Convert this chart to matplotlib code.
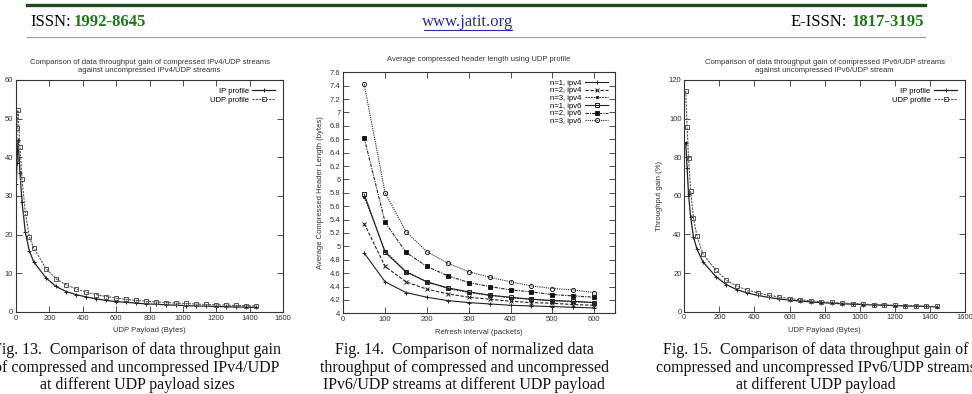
import matplotlib.pyplot as plt
from matplotlib.lines import Line2D

W, H = 972, 394

# ---- data ----
payload4 = [2, 6, 12, 24, 36, 56, 80, 106, 180, 240, 300, 360, 420, 480, 540, 600,
            660, 720, 780, 840, 900, 960, 1020, 1080, 1140, 1200, 1260, 1320, 1380, 1440]
ip4 = [33.0, 38.5, 44.5, 36.0, 28.5, 20.6, 15.8, 13.0, 8.8, 6.6, 5.3, 4.5, 3.9, 3.4,
       3.0, 2.7, 2.5, 2.3, 2.1, 2.0, 1.85, 1.75, 1.65, 1.55, 1.5, 1.42, 1.36, 1.3, 1.25, 1.2]
udp4 = [39.5, 47.7, 52.2, 42.6, 34.3, 25.7, 19.4, 16.6, 11.2, 8.6, 7.0, 6.0, 5.1, 4.5,
        4.0, 3.6, 3.3, 3.0, 2.8, 2.6, 2.45, 2.3, 2.2, 2.05, 1.95, 1.85, 1.78, 1.7, 1.62, 1.55]

refresh = [50, 100, 150, 200, 250, 300, 350, 400, 450, 500, 550, 600]
hdr_series = {
    "n=1, ipv4": [4.90, 4.47, 4.31, 4.24, 4.19, 4.16, 4.14, 4.12, 4.11, 4.10, 4.09, 4.08],
    "n=2, ipv4": [5.34, 4.70, 4.47, 4.36, 4.29, 4.24, 4.21, 4.18, 4.16, 4.15, 4.13, 4.12],
    "n=3, ipv4": [5.74, 4.93, 4.62, 4.47, 4.37, 4.31, 4.27, 4.23, 4.21, 4.19, 4.17, 4.16],
    "n=1, ipv6": [5.78, 4.91, 4.62, 4.47, 4.38, 4.32, 4.27, 4.24, 4.21, 4.19, 4.18, 4.16],
    "n=2, ipv6": [6.62, 5.36, 4.91, 4.70, 4.56, 4.46, 4.40, 4.35, 4.32, 4.28, 4.26, 4.24],
    "n=3, ipv6": [7.42, 5.80, 5.22, 4.92, 4.75, 4.62, 4.54, 4.47, 4.41, 4.37, 4.35, 4.31],
}

payload6 = [8, 16, 24, 36, 52, 72, 106, 180, 240, 300, 360, 420, 480, 540, 600,
            660, 720, 780, 840, 900, 960, 1020, 1080, 1140, 1200, 1260, 1320, 1380, 1440]
ip6 = [87.6, 74.4, 61.0, 49.0, 38.8, 32.5, 25.8, 18.2, 14.0, 11.4, 9.7, 8.4, 7.4, 6.6,
       6.0, 5.5, 5.1, 4.7, 4.4, 4.1, 3.9, 3.7, 3.5, 3.3, 3.15, 3.0, 2.85, 2.7, 2.5]
udp6 = [114.3, 95.6, 79.8, 62.7, 48.7, 39.2, 29.8, 21.5, 16.3, 13.2, 11.2, 9.7, 8.5, 7.6,
        6.8, 6.2, 5.6, 5.2, 4.8, 4.5, 4.2, 3.9, 3.7, 3.5, 3.3, 3.15, 3.0, 2.85, 2.7]

# ---- styling ----
SANS = ["Liberation Sans Narrow", "Liberation Sans", "DejaVu Sans"]
SERIF = ["Liberation Serif", "DejaVu Serif"]
INK = "#333333"
plt.rcParams["font.family"] = SANS


def px_axes(l, t, r, b):
    return [l / W, 1 - b / H, (r - l) / W, (b - t) / H]


def style(ax):
    ax.tick_params(direction="in", top=True, right=True, length=4, width=0.6,
                   labelsize=5.5, pad=2, colors=INK)
    for s in ax.spines.values():
        s.set_linewidth(0.8)
        s.set_color(INK)


fig = plt.figure(figsize=(W / 100, H / 100), dpi=100)
fig.patch.set_facecolor("white")

# ---- page header ----
fig.add_artist(Line2D([27 / W, 925 / W], [1 - 5 / H, 1 - 5 / H], color="#1f4a1f", lw=2.4))
fig.add_artist(Line2D([27 / W, 925 / W], [1 - 37 / H, 1 - 37 / H], color="#999999", lw=0.8))
fig.text(925 / W, 1 + 3 / H, "JATIT", ha="right", va="center", fontsize=10,
         fontweight="bold", color="#333333", family=SERIF)
fig.text(30 / W, 1 - 22 / H, "ISSN:", ha="left", va="center", fontsize=12, family=SERIF)
fig.text(74 / W, 1 - 22 / H, "1992-8645", ha="left", va="center", fontsize=12,
         family=SERIF, color="#1a7a1a", fontweight="bold")
fig.text(468 / W, 1 - 22 / H, "www.jatit.org", ha="center", va="center", fontsize=12,
         family=SERIF, color="#2a2ab0")
fig.add_artist(Line2D([424 / W, 512 / W], [1 - 30 / H, 1 - 30 / H], color="#2a2ab0", lw=0.8))
fig.text(924 / W, 1 - 22 / H, "1817-3195", ha="right", va="center", fontsize=12,
         family=SERIF, color="#1a7a1a", fontweight="bold")
fig.text(847 / W, 1 - 22 / H, "E-ISSN:", ha="right", va="center", fontsize=12, family=SERIF)

# ---- Fig. 13 ----
ax1 = fig.add_axes(px_axes(16, 80, 283, 312))
ax1.plot(payload4, ip4, color="#222222", lw=0.9, marker="+", ms=3.5, mew=0.7,
         label="IP profile")
ax1.plot(payload4, udp4, color="#555555", lw=0.8, ls=(0, (2, 1)), marker="s", ms=3,
         mfc="none", mew=0.7, label="UDP profile")
ax1.set_xlim(0, 1600)
ax1.set_ylim(0, 60)
ax1.set_xticks(range(0, 1601, 200))
ax1.set_yticks(range(0, 61, 10))
ax1.set_xlabel("UDP Payload (Bytes)", fontsize=5.5, color=INK, labelpad=4)
ax1.set_title("Comparison of data throughput gain of compressed IPv4/UDP streams\n"
              "against uncompressed IPv4/UDP streams", fontsize=5.5, color=INK, pad=6,
              linespacing=1.1)
style(ax1)
ax1.legend(loc="upper right", frameon=False, markerfirst=False, fontsize=5.5,
           handlelength=3, labelspacing=0.2, borderaxespad=0.6, handletextpad=0.5)

# ---- Fig. 14 ----
ax2 = fig.add_axes(px_axes(343.3, 72.3, 615, 313.3))
hdr_styles = [
    dict(ls="-", marker="+", ms=3.5, mfc="none"),
    dict(ls=(0, (3, 1.5)), marker="x", ms=3, mfc="none"),
    dict(ls=(0, (1.5, 1)), marker="s", ms=2, mfc="#222222"),
    dict(ls="-", marker="s", ms=3, mfc="none"),
    dict(ls=(0, (3, 1, 1, 1)), marker="s", ms=3, mfc="#111111"),
    dict(ls=(0, (1, 1)), marker="o", ms=3, mfc="none"),
]
for (name, vals), st in zip(hdr_series.items(), hdr_styles):
    ax2.plot(refresh, vals, color="#222222", lw=0.8, mew=0.7, label=name, **st)
ax2.set_xlim(0, 650)
ax2.set_ylim(4, 7.6)
ax2.set_xticks(range(0, 601, 100))
yt = [4 + 0.2 * i for i in range(19)]
ax2.set_yticks(yt)
ax2.set_yticklabels(["%g" % round(v, 1) for v in yt])
ax2.set_xlabel("Refresh interval (packets)", fontsize=5.5, color=INK, labelpad=4)
ax2.set_ylabel("Average Compressed Header Length (bytes)", fontsize=5.5, color=INK,
               labelpad=4)
ax2.set_title("Average compressed header length using UDP profile", fontsize=5.5,
              color=INK, pad=8)
style(ax2)
ax2.legend(loc="upper right", frameon=False, markerfirst=False, fontsize=5.5,
           handlelength=3, labelspacing=0.05, borderaxespad=0.5, handletextpad=0.5)

# ---- Fig. 15 ----
ax3 = fig.add_axes(px_axes(684.3, 80, 965, 311.7))
ax3.plot(payload6, ip6, color="#222222", lw=0.9, marker="+", ms=3.5, mew=0.7,
         label="IP profile")
ax3.plot(payload6, udp6, color="#555555", lw=0.8, ls=(0, (2, 1)), marker="s", ms=3,
         mfc="none", mew=0.7, label="UDP profile")
ax3.set_xlim(0, 1600)
ax3.set_ylim(0, 120)
ax3.set_xticks(range(0, 1601, 200))
ax3.set_yticks(range(0, 121, 20))
ax3.set_xlabel("UDP Payload (Bytes)", fontsize=5.5, color=INK, labelpad=4)
ax3.set_ylabel("Throughput gain (%)", fontsize=5.5, color=INK, labelpad=4)
ax3.set_title("Comparison of data throughput gain of compressed IPv6/UDP streams\n"
              "against uncompressed IPv6/UDP stream", fontsize=5.5, color=INK, pad=6,
              linespacing=1.1)
style(ax3)
ax3.legend(loc="upper right", frameon=False, markerfirst=False, fontsize=5.5,
           handlelength=3, labelspacing=0.2, borderaxespad=0.6, handletextpad=0.5)

# ---- captions ----
captions = [
    (137, ["Fig. 13.  Comparison of data throughput gain",
           "of compressed and uncompressed IPv4/UDP",
           "at different UDP payload sizes"]),
    (464, ["Fig. 14.  Comparison of normalized data",
           "throughput of compressed and uncompressed",
           "IPv6/UDP streams at different UDP payload"]),
    (816, ["Fig. 15.  Comparison of data throughput gain of",
           "compressed and uncompressed IPv6/UDP streams",
           "at different UDP payload"]),
]
for cx, lines in captions:
    for i, line in enumerate(lines):
        fig.text(cx / W, 1 - (350 + 17.5 * i) / H, line, ha="center", va="center",
                 fontsize=11.5, family=SERIF, color="#111111")

fig.savefig("out.png", dpi=100)
